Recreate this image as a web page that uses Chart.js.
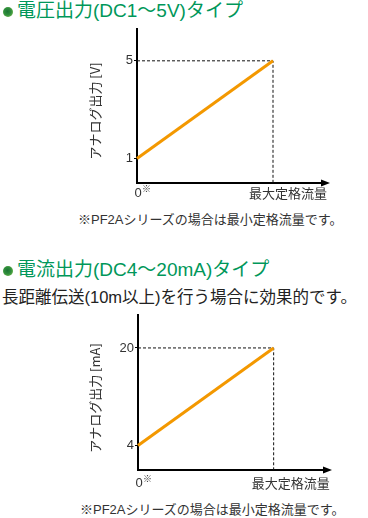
<!DOCTYPE html>
<html lang="ja">
<head>
<meta charset="utf-8">
<title>アナログ出力</title>
<script src="https://cdn.jsdelivr.net/npm/chart.js@4/dist/chart.umd.min.js"></script>
<style>
    body { margin: 0; background: #fff; width: 368px; height: 518px; position: relative; overflow: hidden; font-family: "Liberation Sans", "Noto Sans CJK JP", sans-serif; }
    .dot { position: absolute; width: 10px; height: 10px; border-radius: 50%; background: radial-gradient(circle at 45% 45%, #1d7434 0%, #2f8e3c 45%, #8fca55 100%); }
    .head { position: absolute; left: 17px; color: #00975a; font-size: 19px; line-height: 24px; white-space: nowrap; }
    .sub { position: absolute; left: 2px; color: #222; font-size: 16.5px; line-height: 20px; white-space: nowrap; }
    .note { position: absolute; color: #333; font-size: 13px; line-height: 16px; white-space: nowrap; }
    .box { position: absolute; left: 0; width: 368px; height: 190px; }
</style>
</head>
<body>
<div class="dot" style="left:3px; top:7px;"></div>
<div class="head" style="top:-1px;">電圧出力(DC1～5V)タイプ</div>
<div class="box" style="top:20px;"><canvas id="voltageChart" width="368" height="190"></canvas></div>
<div class="note" style="left:78px; top:212px;">※PF2Aシリーズの場合は最小定格流量です。</div>

<div class="dot" style="left:3px; top:266px;"></div>
<div class="head" style="top:258px;">電流出力(DC4～20mA)タイプ</div>
<div class="sub" style="top:287px;">長距離伝送(10m以上)を行う場合に効果的です。</div>
<div class="box" style="top:305px;"><canvas id="currentChart" width="368" height="190"></canvas></div>
<div class="note" style="left:80px; top:502px;">※PF2Aシリーズの場合は最小定格流量です。</div>

<script>
const flowPoints = [0, 1];
const xLabels = ["0", "最大定格流量"];
const voltageOut = [1, 5];
const voltageTicks = [1, 5];
const currentOut = [4, 20];
const currentTicks = [4, 20];

const lineColor = "#f39800";
const textColor = "#333";
const latinFont = "'Liberation Sans', 'Noto Sans CJK JP', sans-serif";

Chart.defaults.font.family = latinFont;
Chart.defaults.color = textColor;

// arrowhead, x labels and rotated y title
const axisDecor = {
    id: "axisDecor",
    afterDraw(chart, args, opts) {
        const { ctx, chartArea, scales } = chart;
        const xs = scales.x;
        const y0 = Math.round(chartArea.bottom);

        ctx.save();
        ctx.fillStyle = "#000";
        ctx.beginPath();
        ctx.moveTo(chartArea.right + 6, y0);
        ctx.lineTo(chartArea.right - 3, y0 - 3.5);
        ctx.lineTo(chartArea.right - 3, y0 + 3.5);
        ctx.closePath();
        ctx.fill();

        ctx.fillStyle = textColor;
        ctx.textBaseline = "middle";
        const labelY = y0 + opts.labelGap;

        const zeroX = xs.getPixelForValue(flowPoints[0]);
        ctx.font = "13px " + latinFont;
        ctx.textAlign = "center";
        ctx.fillText(xLabels[0], zeroX + 1, labelY);
        ctx.font = "9px 'Noto Sans CJK JP'";
        ctx.textAlign = "left";
        ctx.fillText("※", zeroX + 5, labelY - 4);

        const maxX = xs.getPixelForValue(flowPoints[1]);
        ctx.font = "13px 'Noto Sans CJK JP'";
        ctx.fillText(xLabels[1], maxX + opts.maxShift, labelY);

        ctx.translate(opts.titleX, opts.titleY);
        ctx.rotate(-Math.PI / 2);
        ctx.textAlign = "center";
        ctx.fillText(opts.title, 0, 0);
        ctx.restore();
    }
};

function makeChart(canvasId, series, tickValues, cfg) {
    const top = series[series.length - 1];
    const guide = [
        { x: flowPoints[0], y: top },
        { x: flowPoints[1], y: top },
        { x: flowPoints[1], y: 0 }
    ];

    return new Chart(document.getElementById(canvasId), {
        type: "line",
        data: {
            datasets: [{
                data: flowPoints.map((x, i) => ({ x, y: series[i] })),
                borderColor: lineColor,
                borderWidth: 3,
                pointRadius: 0,
                clip: false,
                order: 0
            }, {
                data: guide,
                borderColor: "#111",
                borderWidth: 1,
                borderDash: [3, 2],
                pointRadius: 0,
                clip: false,
                order: 1
            }]
        },
        options: {
            responsive: false,
            devicePixelRatio: 1,
            animation: false,
            events: [],
            layout: {
                padding: { top: cfg.padTop, right: cfg.padRight, left: 0, bottom: 0 }
            },
            plugins: {
                legend: { display: false },
                tooltip: { enabled: false },
                axisDecor: cfg.decor
            },
            scales: {
                x: {
                    type: "linear",
                    min: 0,
                    max: cfg.xMax,
                    grid: { display: false },
                    ticks: { display: false },
                    border: { display: true, color: "#000", width: 2 },
                    afterFit: (scale) => { scale.height = cfg.xHeight; }
                },
                y: {
                    min: 0,
                    max: cfg.yMax,
                    afterBuildTicks: (scale) => {
                        scale.ticks = tickValues.map((v) => ({ value: v }));
                    },
                    grid: {
                        display: true,
                        drawOnChartArea: false,
                        drawTicks: true,
                        tickLength: 3,
                        color: "#000",
                        lineWidth: 1
                    },
                    ticks: { padding: 1, color: textColor, font: { size: 13 } },
                    border: { display: true, color: "#000", width: 2 },
                    afterFit: (scale) => { scale.width = cfg.yWidth; }
                }
            }
        },
        plugins: [axisDecor]
    });
}

makeChart("voltageChart", voltageOut, voltageTicks, {
    padTop: 7,
    padRight: 44,
    xMax: 1.375,
    yMax: 6.31,
    xHeight: 27,
    yWidth: 137,
    decor: { title: "アナログ出力 [V]", titleX: 95, titleY: 91, labelGap: 10, maxShift: -24 }
});

makeChart("currentChart", currentOut, currentTicks, {
    padTop: 10,
    padRight: 42,
    xMax: 1.386,
    yMax: 25.4,
    xHeight: 25,
    yWidth: 138,
    decor: { title: "アナログ出力 [mA]", titleX: 95, titleY: 93, labelGap: 13, maxShift: -22 }
});
</script>
</body>
</html>
